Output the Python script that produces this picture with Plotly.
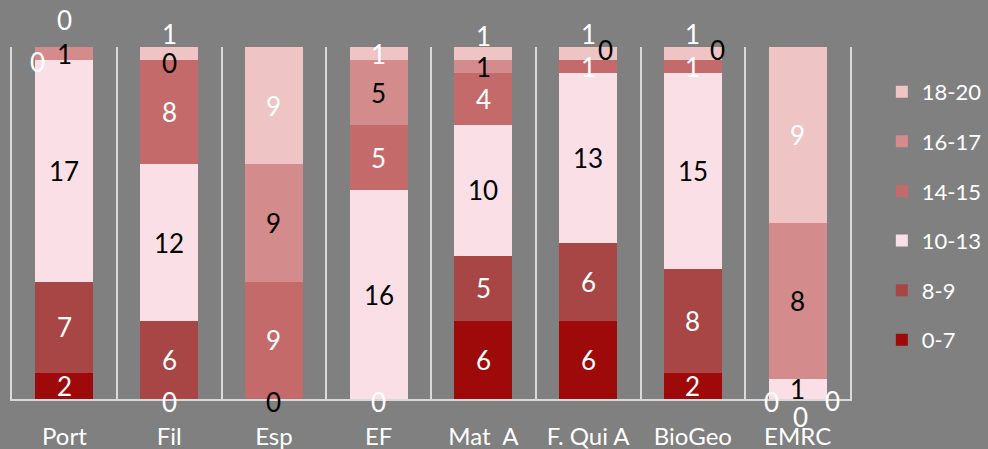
import plotly.graph_objects as go

categories = ["Port", "Fil", "Esp", "EF", "Mat\u00a0 A", "F. Qui A", "BioGeo", "EMRC"]
series_names = ["0-7", "8-9", "10-13", "14-15", "16-17", "18-20"]

v_0_7 = [2, 0, None, 0, 6, 6, 2, 0]
v_8_9 = [7, 6, None, None, 5, 6, 8, 0]
v_10_13 = [17, 12, 0, 16, 10, 13, 15, 1]
v_14_15 = [0, 8, 9, 5, 4, 1, 1, 0]
v_16_17 = [1, 0, 9, 5, 1, 0, 0, 8]
v_18_20 = [0, 1, 9, 1, 1, 1, 1, 9]

series_values = [v_0_7, v_8_9, v_10_13, v_14_15, v_16_17, v_18_20]

colors = ["#9e0a0a", "#a84646", "#fae0e6", "#c56a6a", "#d48b8b", "#eec4c4"]
label_colors = ["white", "white", "black", "white", "black", "white"]

# label displacement (Excel's collision avoidance), keyed by (category index, series index)
label_shift = {
    (0, 3): (-27, -2), (0, 5): (0, 27),
    (1, 0): (0, -3), (1, 4): (0, -3), (1, 5): (0, 20),
    (2, 2): (0, -3),
    (3, 0): (0, -3),
    (4, 5): (0, 18),
    (5, 4): (17, 10), (5, 5): (0, 20),
    (6, 4): (25, 10), (6, 5): (0, 20),
    (7, 0): (-26, -3), (7, 1): (3, -18), (7, 3): (35, -22),
}

fig = go.Figure()
n = len(series_names)
for si, (name, vals, col) in enumerate(zip(series_names, series_values, colors)):
    fig.add_trace(go.Bar(
        x=categories, y=[v if v is not None else 0 for v in vals], name=name,
        legendgroup=name, legendrank=n - si,
        marker=dict(color=col, line=dict(width=0)),
        hoverinfo="skip",
    ))

annotations = []
for ci, cat in enumerate(categories):
    total = sum((s[ci] or 0) for s in series_values)
    cum = 0.0
    for si, s in enumerate(series_values):
        v = s[ci]
        if v is None:
            continue
        lo = cum / total * 100
        hi = (cum + v) / total * 100
        cum += v
        y = (lo + hi) / 2 if v > 0 else lo
        dx, dy = label_shift.get((ci, si), (0, 0))
        annotations.append(dict(
            x=cat, y=y, xref="x", yref="y", text=str(v), showarrow=False,
            xshift=dx, yshift=dy,
            font=dict(family="Lato", size=26, color=label_colors[si]),
        ))

fig.update_layout(
    barmode="stack", barnorm="percent", bargap=0.446,
    width=988, height=449,
    margin=dict(l=12, r=138, t=47, b=50, autoexpand=False),
    paper_bgcolor="#808080", plot_bgcolor="#808080",
    font=dict(family="Lato", color="white"),
    annotations=annotations,
    showlegend=True,
    legend=dict(
        traceorder="grouped", tracegroupgap=18,
        x=1.038, xanchor="left", y=0.52, yanchor="middle",
        xref="paper", font=dict(size=22, color="white"),
        bgcolor="rgba(0,0,0,0)", itemwidth=30,
    ),
    xaxis=dict(
        type="category", showgrid=True, tickson="boundaries",
        gridcolor="#d9d9d9", gridwidth=2,
        showline=True, linecolor="#d9d9d9", linewidth=2,
        ticks="", tickfont=dict(size=24, color="white"),
        ticklabelstandoff=15, zeroline=False, automargin=False,
    ),
    yaxis=dict(
        range=[0, 100], showticklabels=False, ticks="", showgrid=False,
        zeroline=False, showline=True, mirror=True,
        linecolor="#d9d9d9", linewidth=2,
    ),
)

fig.write_html(
    "out.html",
    config={"displayModeBar": False},
    post_script="document.body.style.margin='0';document.body.style.background='#808080';",
)
